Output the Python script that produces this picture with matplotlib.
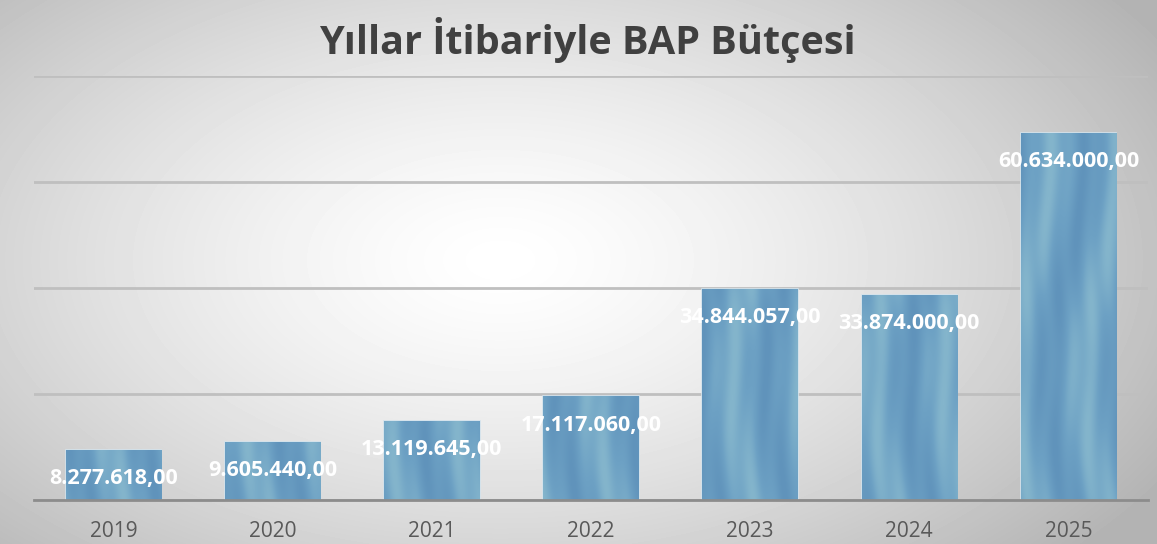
import numpy as np
import matplotlib.pyplot as plt
from matplotlib.colors import LinearSegmentedColormap

years = ["2019", "2020", "2021", "2022", "2023", "2024", "2025"]
budget = [8277618.00, 9605440.00, 13119645.00, 17117060.00, 34844057.00, 33874000.00, 60634000.00]
labels = ["8.277.618,00", "9.605.440,00", "13.119.645,00", "17.117.060,00",
          "34.844.057,00", "33.874.000,00", "60.634.000,00"]

W, H = 1157, 544
fig = plt.figure(figsize=(W / 100, H / 100), dpi=100)

# radial grey background, white near the middle
bg = fig.add_axes([0, 0, 1, 1])
yy, xx = np.mgrid[0:H, 0:W]
r = np.sqrt(((xx - 500) / 700) ** 2 + ((yy - 260) / 400) ** 2)
shade = 1 - 0.26 * np.clip(r, 0, 1.1) ** 1.4
bg.imshow(shade, cmap="gray", vmin=0, vmax=1, aspect="auto", extent=[0, W, H, 0])
bg.axis("off")

ax = fig.add_axes([34 / W, 1 - 500 / H, (1148 - 34) / W, (500 - 76) / H])
ax.patch.set_alpha(0)

x = np.arange(len(years))
bars = ax.bar(x, budget, width=0.6, color="#6b9fc4", edgecolor="#d2e2ec", linewidth=1.2, zorder=3)

# soft vertical streak texture inside the bars
ty, tx = np.mgrid[0:400, 0:1100]
tex = (0.5 + 0.2 * np.sin(tx / 11.0 + 1.8 * np.sin(ty / 70.0))
       + 0.07 * np.sin(tx / 3.3 + 0.9 * np.sin(ty / 30.0)))
cmap = LinearSegmentedColormap.from_list("bar", ["#6093bb", "#6da1c4", "#84b5cc"])
for b in bars:
    im = ax.imshow(tex, cmap=cmap, aspect="auto", zorder=3.5,
                   extent=[-0.5, len(years) - 0.5, 0, 70e6], origin="lower")
    im.set_clip_path(b)

ax.set_xlim(-0.5, len(years) - 0.5)
ax.set_ylim(0, 70e6)
ax.set_yticks(np.arange(0, 70e6 + 1, 17.5e6))
ax.yaxis.grid(True, color="#bfbfbf", linewidth=2, zorder=0)
ax.tick_params(axis="y", left=False, labelleft=False)
ax.set_xticks(x)
ax.set_xticklabels(years, fontsize=15, color="#595959", family="Open Sans")
ax.tick_params(axis="x", length=0, pad=15)
for s in ["top", "right", "left"]:
    ax.spines[s].set_visible(False)
ax.spines["bottom"].set_color("#8c8c8c")
ax.spines["bottom"].set_linewidth(2)
ax.spines["bottom"].set_zorder(5)

for xi, v, lab in zip(x, budget, labels):
    ax.annotate(lab, (xi, v), xytext=(0, -29), textcoords="offset pixels",
                ha="center", va="center", color="white", fontsize=15.5,
                fontweight="bold", family="Open Sans", zorder=6)

fig.text(587 / W, 1 - 40 / H, "Yıllar İtibariyle BAP Bütçesi", ha="center", va="center",
         fontsize=28.5, fontweight="bold", color="#404040", family="Open Sans")

fig.savefig("out.png", dpi=100)
